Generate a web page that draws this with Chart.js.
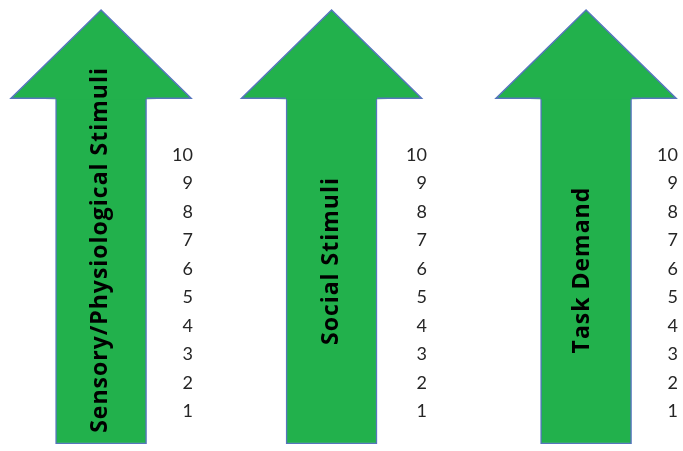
<!DOCTYPE html>
<html>
<head>
<meta charset="utf-8">
<script src="https://cdn.jsdelivr.net/npm/chart.js@4/dist/chart.umd.min.js"></script>
<style>
  html, body { margin: 0; padding: 0; background: #fff; }
  body { width: 683px; height: 451px; position: relative; overflow: hidden; }
  canvas { position: absolute; top: 0; }
</style>
</head>
<body>
<canvas id="arrow-0" width="200" height="451" style="left:0px"></canvas>
<canvas id="arrow-1" width="200" height="451" style="left:230px"></canvas>
<canvas id="arrow-2" width="223" height="451" style="left:460px"></canvas>
<script>
// Arrow labels and the 1-10 rating scale beside each arrow
const categories = ['Sensory/Physiological Stimuli', 'Social Stimuli', 'Task Demand'];
const levels = [1, 2, 3, 4, 5, 6, 7, 8, 9, 10];
// shaft of each arrow runs from just below 0 up to ~12, head point at ~15
const shaftRange = [[-0.15, 12], [-0.15, 12], [-0.15, 12]];
const headTip = [15.1, 15.1, 15.1];

const GREEN = '#22b14c';
const EDGE = '#5676bd';

// per-chart placement (canvas padding) and where the vertical label sits
const layouts = [
    { padLeft: 36, padRight: 7, labelAt: 6.67, labelShift: -1 },
    { padLeft: 33, padRight: 3, labelAt: 6.28, labelShift: 0 },
    { padLeft: 61, padRight: 5, labelAt: 5.96, labelShift: -4 }
];

// draws the arrow head on top of the bar and the rotated label inside it
const arrowHead = {
    id: 'arrowHead',
    afterDatasetsDraw(chart, args, opts) {
        const ctx = chart.ctx;
        const y = chart.scales.y;
        chart.getDatasetMeta(0).data.forEach((bar, i) => {
            const half = bar.width / 2;
            const baseY = bar.y;
            const tipY = y.getPixelForValue(opts.tip);
            const hw = opts.headWidth / 2;
            ctx.save();
            ctx.beginPath();
            ctx.moveTo(bar.x - half, baseY + 1);
            ctx.lineTo(bar.x - hw, baseY);
            ctx.lineTo(bar.x, tipY);
            ctx.lineTo(bar.x + hw, baseY);
            ctx.lineTo(bar.x + half, baseY + 1);
            ctx.closePath();
            ctx.fillStyle = GREEN;
            ctx.fill();
            ctx.beginPath();
            ctx.moveTo(bar.x - half, baseY);
            ctx.lineTo(bar.x - hw, baseY);
            ctx.lineTo(bar.x, tipY);
            ctx.lineTo(bar.x + hw, baseY);
            ctx.lineTo(bar.x + half, baseY);
            ctx.strokeStyle = EDGE;
            ctx.lineWidth = 1.5;
            ctx.stroke();

            // label reading bottom to top
            ctx.translate(bar.x + opts.labelShift, y.getPixelForValue(opts.labelAt));
            ctx.rotate(-Math.PI / 2);
            ctx.font = 'bold 23px "Open Sans"';
            ctx.letterSpacing = '1px';
            ctx.fillStyle = '#000';
            ctx.textAlign = 'center';
            ctx.textBaseline = 'middle';
            ctx.fillText(chart.data.labels[i], 0, 0);
            ctx.restore();
        });
    }
};

function makeArrow(i) {
    const lay = layouts[i];
    return new Chart(document.getElementById('arrow-' + i).getContext('2d'), {
        type: 'bar',
        data: {
            labels: [categories[i]],
            datasets: [{
                data: [shaftRange[i]],
                backgroundColor: GREEN,
                borderColor: EDGE,
                borderWidth: 1.5,
                borderSkipped: 'top',
                barThickness: 91
            }]
        },
        options: {
            responsive: false,
            animation: false,
            layout: { padding: { left: lay.padLeft, right: lay.padRight, top: 10, bottom: 7 } },
            scales: {
                x: { display: false },
                y: {
                    position: 'right',
                    min: -0.15,
                    max: 15.1,
                    afterBuildTicks: s => { s.ticks = levels.map(v => ({ value: v })); },
                    // tick labels sit well inside the range, so no extra edge room needed
                    afterFit: s => { s.paddingTop = 0; s.paddingBottom = 0; },
                    grid: { display: false, drawTicks: false },
                    border: { display: false },
                    ticks: {
                        crossAlign: 'far',
                        padding: 3,
                        color: '#262626',
                        font: { family: 'Lato', size: 18 }
                    }
                }
            },
            plugins: {
                legend: { display: false },
                tooltip: { enabled: false },
                arrowHead: { tip: headTip[i], headWidth: 180, labelAt: lay.labelAt, labelShift: lay.labelShift }
            }
        },
        plugins: [arrowHead]
    });
}

categories.forEach((c, i) => makeArrow(i));
</script>
</body>
</html>
